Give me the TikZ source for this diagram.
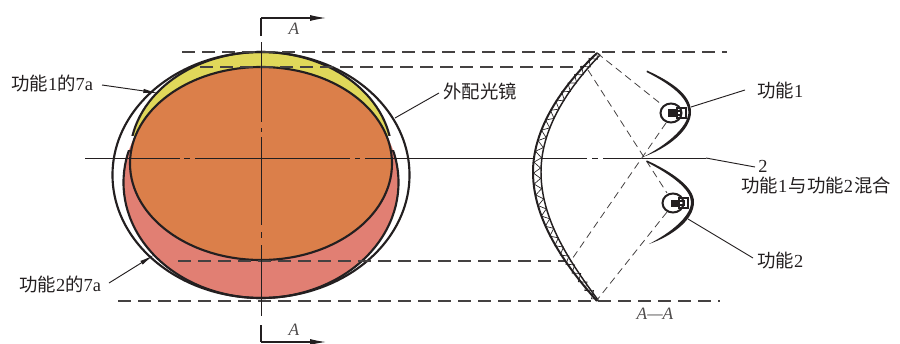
\documentclass[tikz,border=0pt]{standalone}
\usepackage{fontspec}
\setmainfont{Liberation Serif}
\newfontfamily\cjk{Noto Sans CJK SC}
\usetikzlibrary{arrows.meta,decorations.pathmorphing}
\definecolor{ink}{HTML}{231F20}
\definecolor{lensorange}{HTML}{DB7F4A}
\definecolor{lensyellow}{HTML}{E0D85A}
\definecolor{lensred}{HTML}{E17F73}
\tikzset{
  outline/.style={draw=ink,line width=1.6pt},
  heavy/.style={draw=ink,line width=2pt},
  thinline/.style={draw=ink,line width=0.7pt},
  centerline/.style={draw=ink,line width=0.75pt},
  longdash/.style={draw=ink!85,line width=0.8pt,dash pattern=on 10pt off 5pt},
  raydash/.style={draw=ink!85,line width=0.6pt,dash pattern=on 5.5pt off 3.5pt},
  sectionmark/.style={draw=ink,line width=0.8pt},
  tipleader/.style={thinline,-{Latex[length=11pt,width=3.2pt]}},
  label/.style={text=ink,font=\fontsize{13.8pt}{16pt}\selectfont,inner sep=0pt,anchor=west},
  seclabel/.style={text=ink!80,font=\fontsize{13pt}{15pt}\selectfont\itshape,inner sep=0pt},
}
\begin{document}
\begin{tikzpicture}[x=0.75pt,y=-0.75pt]
\useasboundingbox (0,0) rectangle (900,343);
% coloured zones
\fill[lensred] (261,182.5) ellipse [x radius=137.5, y radius=115.5];
\begin{scope}
  \clip (100,40) rectangle (420,135);
  \fill[lensyellow] (261,156) ellipse [x radius=131, y radius=104];
  \draw[outline] (261,156) ellipse [x radius=131, y radius=104];
\end{scope}
\begin{scope}
  \clip (100,150) rectangle (420,320);
  \draw[outline] (261,182.5) ellipse [x radius=137.5, y radius=115.5];
\end{scope}
\filldraw[fill=lensorange,outline] (261,163.5) ellipse [x radius=131, y radius=96.5];
\draw[outline] (261,175) ellipse [x radius=148.5, y radius=123];
% horizontal dashed lines
\coordinate (t1a) at (182,52); \coordinate (t1b) at (727,52);
\coordinate (t2a) at (200,67); \coordinate (t2b) at (584,67);
\coordinate (b1a) at (178,261); \coordinate (b1b) at (566,261);
\coordinate (b2a) at (118,301); \coordinate (b2b) at (720,301);
\draw[longdash] (t1a) -- (t1b);
\draw[longdash] (t2a) -- (t2b);
\draw[longdash] (b1a) -- (b1b);
\draw[longdash] (b2a) -- (b2b);
% horizontal centre line
\coordinate (hA) at (85,158); \coordinate (hB) at (179.5,158);
\coordinate (hC) at (184,158); \coordinate (hD) at (190,158);
\coordinate (hE) at (195,158); \coordinate (hF) at (350,158);
\coordinate (hG) at (355,158); \coordinate (hH) at (360,158);
\coordinate (hI) at (365,158); \coordinate (hJ) at (587,158);
\coordinate (hK) at (592,158); \coordinate (hL) at (598,158);
\coordinate (hM) at (603,158); \coordinate (hN) at (706,158);
\draw[centerline] (hA) -- (hB) (hC) -- (hD) (hE) -- (hF) (hG) -- (hH) (hI) -- (hJ) (hK) -- (hL) (hM) -- (hN);
% vertical centre line
\coordinate (vA) at (261,42); \coordinate (vB) at (261,122);
\coordinate (vC) at (261,128); \coordinate (vD) at (261,132);
\coordinate (vE) at (261,137); \coordinate (vF) at (261,225);
\coordinate (vG) at (261,232); \coordinate (vH) at (261,238);
\coordinate (vI) at (261,245); \coordinate (vJ) at (261,316);
\draw[centerline] (vA) -- (vB) (vC) -- (vD) (vE) -- (vF) (vG) -- (vH) (vI) -- (vJ);
% section marks
\coordinate (s1a) at (261,36); \coordinate (s1b) at (261,18); \coordinate (s1c) at (326,18);
\coordinate (s2a) at (261,325); \coordinate (s2b) at (261,342); \coordinate (s2c) at (326,342);
\draw[heavy,line width=1.3pt] (s1a) -- (s1b);
\draw[sectionmark,-{Latex[length=12pt,width=4.5pt]}] (s1b) -- (s1c);
\draw[heavy,line width=1.3pt] (s2a) -- (s2b);
\draw[sectionmark,-{Latex[length=12pt,width=4.5pt]}] (s2b) -- (s2c);
\node[seclabel] (secTop) at (294,29) {A};
\node[seclabel] (secBot) at (294,330) {A};
\node[seclabel] (secName) at (655,314) {A—A};
% section of the lens
\fill[white] (597,53) .. controls (560,88) and (533,130) .. (533,172)
  .. controls (533,220) and (565,265) .. (597,301)
  .. controls (570,262) and (541,220) .. (541,172)
  .. controls (541,130) and (566,90) .. (600,55) -- cycle;
\draw[thinline,line width=0.5pt,decorate,decoration={zigzag,amplitude=2.6pt,segment length=8pt}]
  (597,55) .. controls (563,89) and (537,130) .. (537,172) .. controls (537,220) and (567,263) .. (596,299);
\draw[heavy,line width=1.5pt] (597,53) .. controls (560,88) and (533,130) .. (533,172)
  .. controls (533,220) and (565,265) .. (597,301);
\draw[thinline,line width=1.1pt] (600,55) .. controls (566,90) and (541,130) .. (541,172)
  .. controls (541,220) and (570,262) .. (598,300);
\draw[thinline,line width=1pt] (597,53) -- (600,55) (597,301) -- (598,300);
% rays
\coordinate (lensTop) at (597,53); \coordinate (lensUp) at (588,70);
\coordinate (lensDown) at (570,262); \coordinate (lensBot) at (597,300);
\coordinate (lampA) at (661,104); \coordinate (lampAb) at (666,123);
\coordinate (lampB) at (667,193); \coordinate (lampBb) at (667,212);
\draw[raydash] (lensTop) -- (lampA);
\draw[raydash] (lensUp) -- (lampB);
\draw[raydash] (lampAb) -- (lensDown);
\draw[raydash] (lampBb) -- (lensBot);
% reflectors
\fill[ink] (647,70.5) .. controls (672,82) and (691,95) .. (691,112)
  .. controls (691,130) and (668,148) .. (643,157)
  .. controls (665,146) and (688,128) .. (688.5,112)
  .. controls (688,97) and (670,84) .. (646.5,72) -- cycle;
\fill[ink] (647,160.5) .. controls (672,172) and (694,187) .. (694,202)
  .. controls (694,220) and (672,236) .. (649,244)
  .. controls (670,233) and (691,217) .. (691,202)
  .. controls (691,189) and (670,174) .. (646.5,162) -- cycle;
% lamps
\draw[heavy,line width=1.5pt] (671,113) ellipse [x radius=10.5, y radius=9.5];
\fill[ink] (668,109) rectangle (677,117);
\draw[thinline,line width=1pt] (677,108) rectangle (686,118);
\draw[thinline,line width=0.8pt] (677,111) -- (681,111) -- (681,115) -- (677,115);
\draw[heavy,line width=1.5pt] (673,203) ellipse [x radius=10.5, y radius=9.5];
\fill[ink] (671,200) rectangle (679,207);
\draw[thinline,line width=1pt] (679,198) rectangle (688,208);
\draw[thinline,line width=0.8pt] (679,201) -- (684,201) -- (684,205) -- (679,205);
% labels
\node[label] (f1) at (757,90) {{\cjk 功能}1};
\node[label] (f2) at (757,260) {{\cjk 功能}2};
\node[label] (two) at (758,166) {2};
\node[label] (mix) at (741,186) {{\cjk 功能}1\kern1pt{\cjk 与功能}2\kern1pt{\cjk 混合}};
\node[label] (lensLab) at (443,91) {{\cjk 外配光镜}};
\node[label] (z1) at (11,83) {{\cjk 功能}1{\cjk 的}7a};
\node[label] (z2) at (19,284) {{\cjk 功能}2{\cjk 的}7a};
% leaders
\coordinate (tip1) at (691,107); \coordinate (tip2) at (688,219);
\coordinate (tip3) at (395,118); \coordinate (tip4) at (158,93);
\coordinate (tip5) at (154,255);
\coordinate (f1end) at (745,90); \coordinate (f2end) at (753,258);
\coordinate (lensEnd) at (439,93); \coordinate (z1end) at (102,85);
\coordinate (z2end) at (109,283); \coordinate (twoEnd) at (755,167);
\draw[thinline] (tip1) -- (f1end);
\draw[thinline] (tip2) -- (f2end);
\draw[thinline] (tip3) -- (lensEnd);
\draw[tipleader] (z1end) -- (tip4);
\draw[tipleader] (z2end) -- (tip5);
\draw[thinline] (twoEnd) -- (hN);
\end{tikzpicture}
\end{document}
